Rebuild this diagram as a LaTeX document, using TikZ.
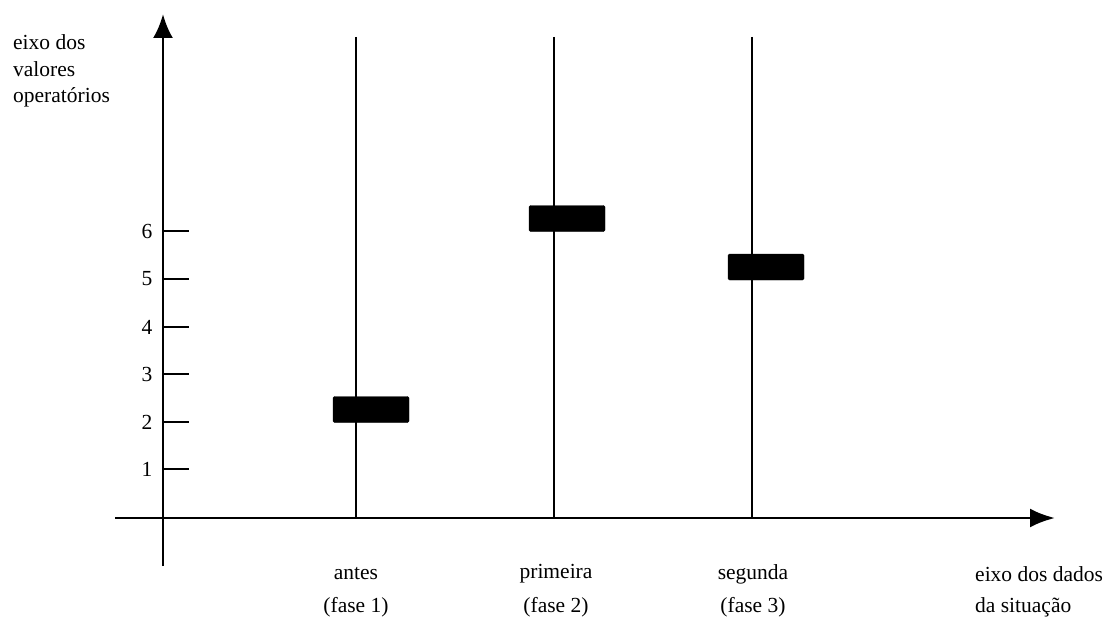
\documentclass[tikz,border=0pt]{standalone}
\usepackage{fontspec}
\setmainfont{Liberation Serif}
\usetikzlibrary{arrows.meta}
\begin{document}
\begin{tikzpicture}[x=1pt,y=-1pt,
  axis/.style={line width=2.9pt},
  tickline/.style={line width=2.7pt},
  phase/.style={line width=2.7pt},
  bar/.style={fill=black,draw=black,rounded corners=1.5pt,minimum width=76pt,minimum height=26pt,inner sep=0pt},
  lab/.style={font=\fontsize{21.5}{25}\selectfont,inner sep=0pt},
  num/.style={font=\fontsize{21.5}{25}\selectfont,inner sep=0pt,anchor=center}]
\useasboundingbox (0,0) rectangle (1118,623);
% axes
\coordinate (yb) at (163,566);
\coordinate (yt) at (163,14);
\coordinate (xl) at (115,518);
\coordinate (xr) at (1055,518);
\draw[axis,-{Latex[length=24pt,width=20pt]}] (yb) -- (yt);
\draw[axis,-{Latex[length=25pt,width=19pt]}] (xl) -- (xr);
% ticks
\foreach \v/\yy in {1/469,2/422,3/374,4/327,5/279,6/231}{
  \coordinate (t\v a) at (163,\yy);
  \coordinate (t\v b) at (189,\yy);
  \draw[tickline] (t\v a) -- (t\v b);
  \node[num] (n\v) at (147,\yy) {\v};
}
% phase lines
\foreach \i/\xx in {1/356,2/554,3/752}{
  \coordinate (p\i t) at (\xx,37);
  \coordinate (p\i b) at (\xx,518);
  \draw[phase] (p\i t) -- (p\i b);
}
% bars
\node[bar] (b1) at (371,409.5) {};
\node[bar] (b2) at (567,218.5) {};
\node[bar] (b3) at (766,267) {};
% y-axis label
\node[lab,anchor=west] (ya1) at (13,42) {eixo dos};
\node[lab,anchor=west] (ya2) at (13,69) {valores};
\node[lab,anchor=west] (ya3) at (13,97) {operatórios};
% x labels
\node[lab] (l1) at (356,574) {antes};
\node[lab] (f1) at (356,607) {(fase 1)};
\node[lab] (l2) at (556,574) {primeira};
\node[lab] (f2) at (556,607) {(fase 2)};
\node[lab] (l3) at (753,574) {segunda};
\node[lab] (f3) at (753,607) {(fase 3)};
\node[lab,anchor=west] (xa1) at (975,574) {eixo dos dados};
\node[lab,anchor=west] (xa2) at (975,607) {da situação};
\end{tikzpicture}
\end{document}
